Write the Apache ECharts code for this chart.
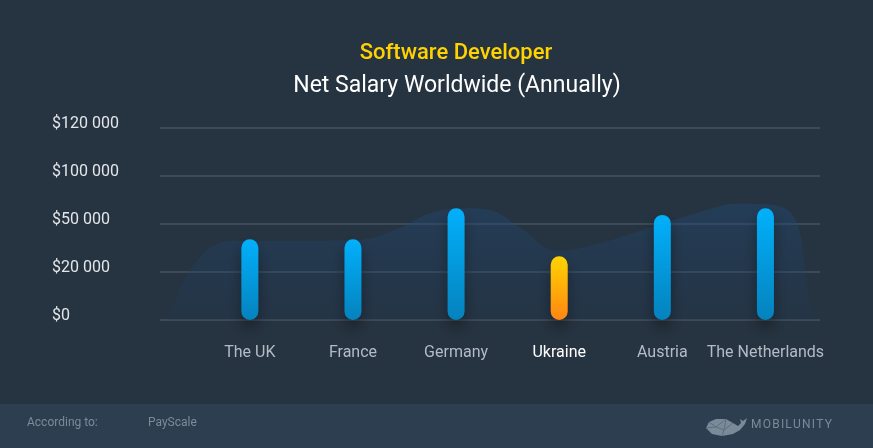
<!DOCTYPE html>
<html>
<head>
<meta charset="utf-8">
<script src="https://cdn.jsdelivr.net/npm/echarts@6/dist/echarts.min.js"></script>
<style>
html,body{margin:0;padding:0;background:#263340;}
#chart{width:873px;height:448px;}
</style>
</head>
<body>
<div id="chart"></div>
<script>
// Categories
const countries = ['The UK', 'France', 'Germany', 'Ukraine', 'Austria', 'The Netherlands'];
// Y tick labels (axis is evenly spaced, one step per label)
const tickLabels = ['$0', '$20 000', '$50 000', '$100 000', '$120 000'];
// Bar heights, expressed in tick steps of the axis above (0 = $0, 1 = $20 000, 2 = $50 000 ...)
const barLevels = [1.68, 1.68, 2.33, 1.33, 2.19, 2.33];
const highlight = 'Ukraine';
// Decorative background wave: x in category units, y in tick steps
const waveX = [-0.80, -0.58, -0.34, -0.10, 0.49, 1.07, 1.46, 1.75, 2.04, 2.33, 2.62, 2.98, 3.40, 3.88, 4.37, 4.71, 5.05, 5.24, 5.34, 5.41, 5.48, 5.53];
const waveY = [0, 1.04, 1.56, 1.65, 1.65, 1.67, 1.92, 2.23, 2.33, 2.29, 1.92, 1.44, 1.60, 1.92, 2.25, 2.42, 2.40, 2.25, 1.77, 0.63, 0.10, 0];

const chart = echarts.init(document.getElementById('chart'));
const G = echarts.graphic;

const blueGrad = new G.LinearGradient(0, 0, 0, 1, [
  {offset: 0, color: '#02b0fb'}, {offset: 1, color: '#0582bd'}]);
const yellowGrad = new G.LinearGradient(0, 0, 0, 1, [
  {offset: 0, color: '#ffd400'}, {offset: 1, color: '#ff8612'}]);

const option = {
  backgroundColor: '#263340',
  textStyle: {fontFamily: 'Roboto'},
  title: [
    {text: 'Software Developer', left: 451, top: 37, textAlign: 'center',
     textStyle: {color: '#ffd200', fontSize: 22, fontWeight: 500, fontFamily: 'Roboto'}},
    {text: 'Net Salary Worldwide (Annually)', left: 452, top: 70, textAlign: 'center',
     textStyle: {color: '#ffffff', fontSize: 23, fontWeight: 400, fontFamily: 'Roboto'}}
  ],
  grid: [
    {left: 160, right: 53, top: 128, bottom: 128},
    {left: 198.3, right: 56, top: 128, bottom: 128}
  ],
  xAxis: [
    {gridIndex: 0, type: 'value', min: -0.872, max: 5.53, show: false},
    {gridIndex: 1, type: 'category', data: countries,
     axisLine: {show: false}, axisTick: {show: false},
     axisLabel: {interval: 0, hideOverlap: false, margin: 25, fontSize: 16, color: '#b3bcc6',
       formatter: v => v === highlight ? '{h|' + v + '}' : v,
       rich: {h: {color: '#ffffff', fontSize: 16}}}}
  ],
  yAxis: [
    {gridIndex: 0, type: 'value', min: 0, max: 4, interval: 1,
     axisLine: {show: false}, axisTick: {show: false},
     splitLine: {lineStyle: {color: '#3c4957', width: 2}},
     axisLabel: {formatter: v => tickLabels[v], align: 'left', margin: 108,
       fontSize: 16, color: '#e2e6ea', verticalAlign: 'bottom', lineHeight: 8}},
    {gridIndex: 1, type: 'value', min: 0, max: 4, show: false}
  ],
  series: [
    {type: 'line', xAxisIndex: 0, yAxisIndex: 0, smooth: 0.35, symbol: 'none',
     silent: true, z: 1,
     lineStyle: {width: 0},
     areaStyle: {color: new G.LinearGradient(0, 0, 0, 1, [
        {offset: 0, color: 'rgba(32,78,126,0.55)'},
        {offset: 1, color: 'rgba(30,60,95,0.25)'}])},
     data: waveX.map((x, i) => [x, waveY[i]])},
    {type: 'bar', xAxisIndex: 1, yAxisIndex: 1, barWidth: 17, z: 3,
     data: barLevels.map((v, i) => ({value: v,
       itemStyle: {color: countries[i] === highlight ? yellowGrad : blueGrad}})),
     itemStyle: {borderRadius: 9, shadowColor: 'rgba(0,0,0,0.35)', shadowBlur: 14, shadowOffsetY: 8}}
  ],
  graphic: [
    {type: 'rect', left: 0, top: 404, shape: {width: 873, height: 44}, style: {fill: '#2c3e50'}, z: -1},
    {type: 'text', left: 27, top: 417, style: {text: 'According to:', fill: '#7d8b99', font: '12px Roboto'}},
    {type: 'text', left: 148, top: 417, style: {text: 'PayScale', fill: '#7d8b99', font: '12px Roboto'}},
    {type: 'text', left: 751, top: 419, style: {text: 'M O B I L U N I T Y'.replace(/ /g, '\u200A'), fill: '#7b8a98', font: '12px Roboto'}},
    {type: 'polygon', shape: {points: [[706,428],[709,422],[716,419],[726,419],[733,423],[738,426],[741,423],[740,419],[743,421],[747,418],[745,424],[740,430],[733,434],[722,436],[712,434]]},
     style: {fill: '#7b8a98'}},
    {type: 'polyline', shape: {points: [[709,422],[716,427],[726,419],[724,430],[733,423]]},
     style: {stroke: '#5f6e7c', lineWidth: 1, fill: null}},
    {type: 'polyline', shape: {points: [[706,428],[716,427],[724,430],[722,436]]},
     style: {stroke: '#5f6e7c', lineWidth: 1, fill: null}}
  ]
};
chart.setOption(option);
</script>
</body>
</html>
